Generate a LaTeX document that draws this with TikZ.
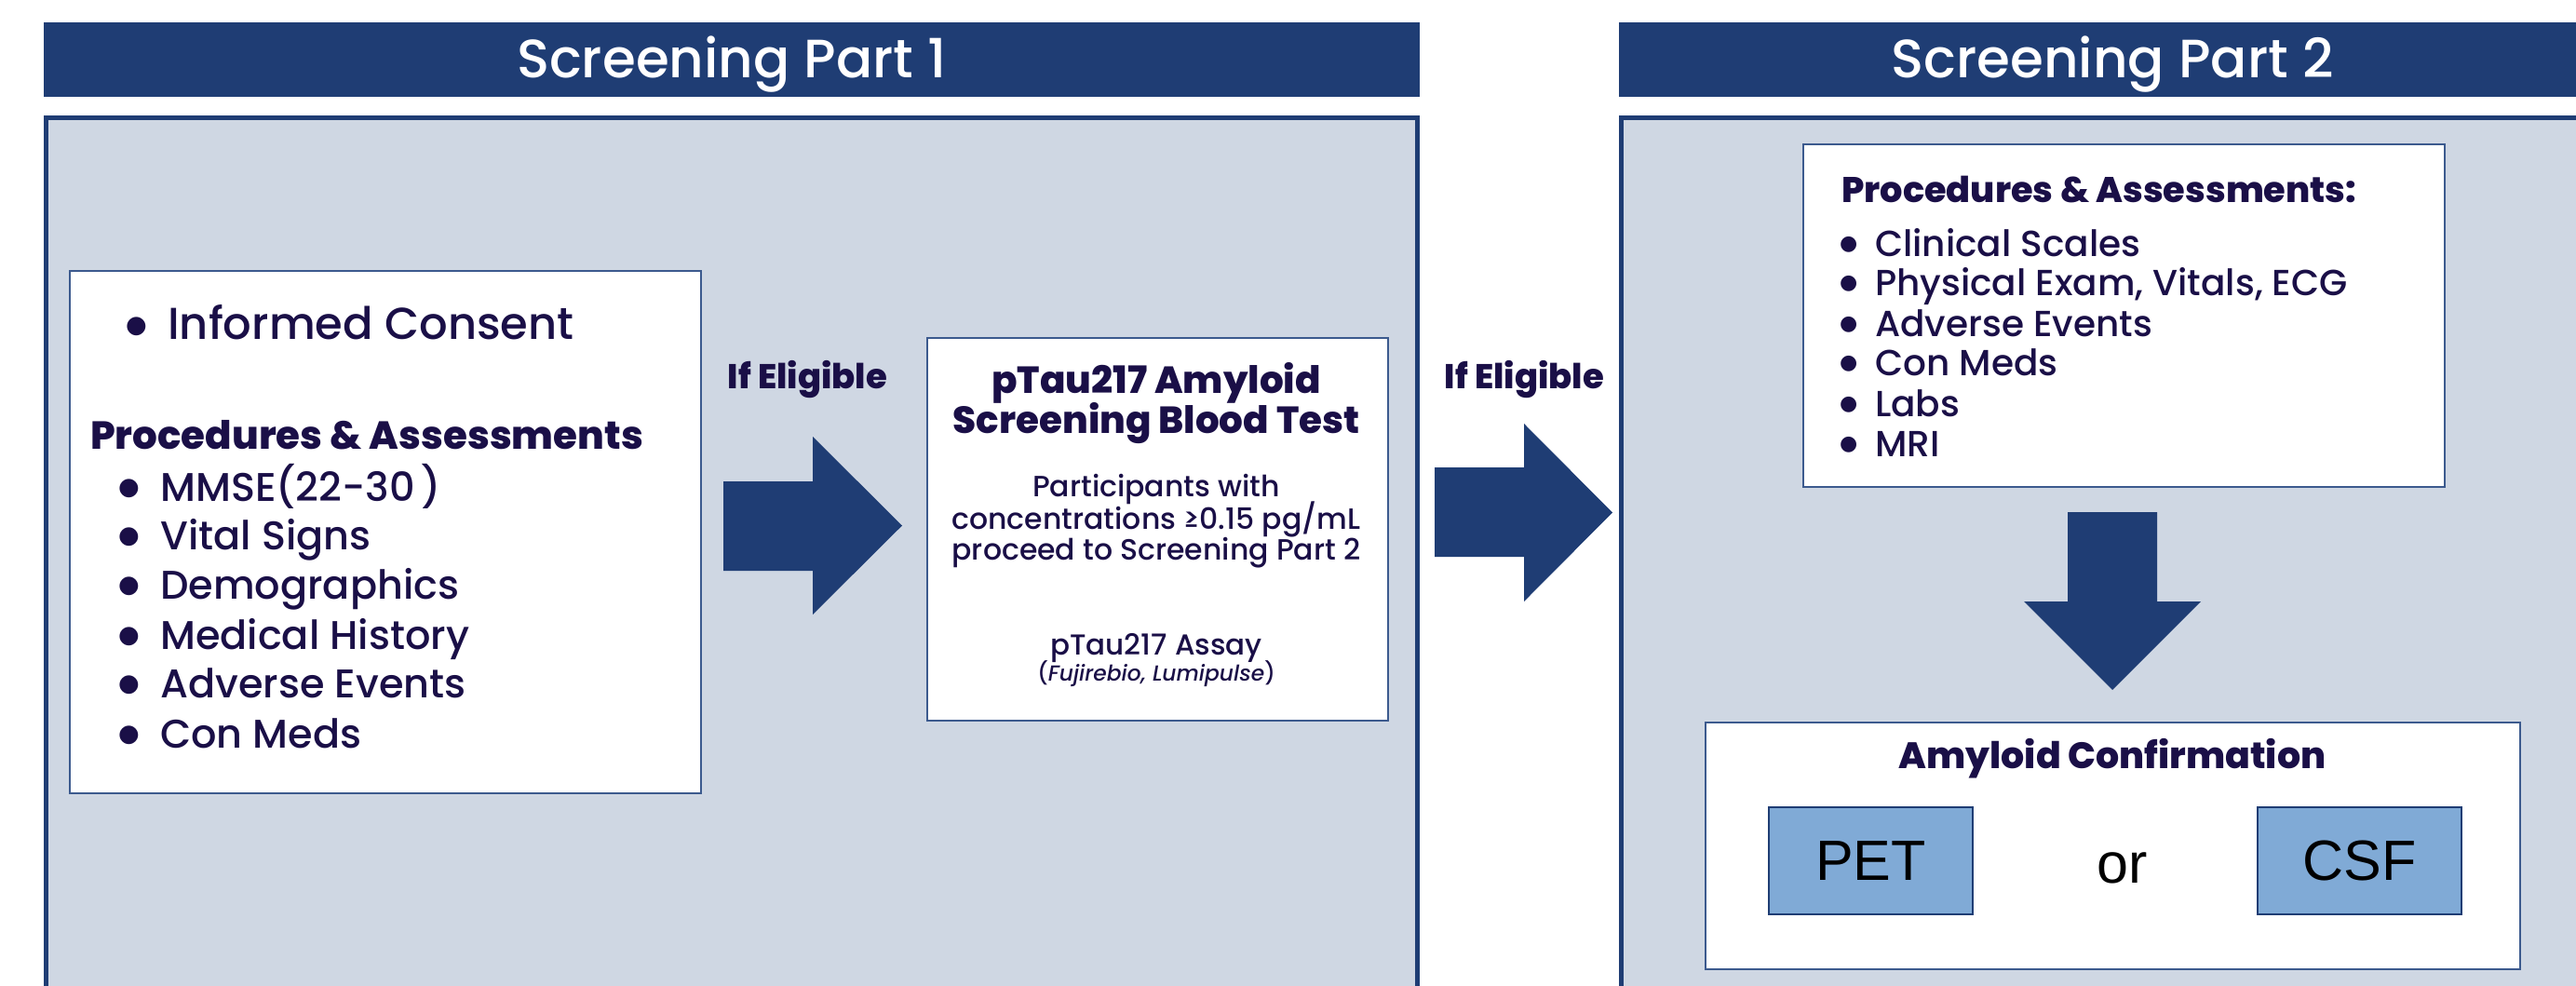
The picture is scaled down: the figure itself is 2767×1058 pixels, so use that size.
\documentclass[tikz,border=0pt]{standalone}
\usepackage{fontspec}
\setmainfont{Poppins}[UprightFont={* Medium}, ItalicFont={* Medium Italic}]
\newfontfamily\plainsans{Liberation Sans}
\newfontfamily\dotfont{DejaVu Sans}

\definecolor{navy}{HTML}{1F3D74}
\definecolor{panel}{HTML}{CFD7E3}
\definecolor{ink}{HTML}{1A0F47}
\definecolor{steel}{HTML}{80AAD6}
\definecolor{boxline}{HTML}{3C5A8E}

\newcommand\fsz[1]{\fontsize{#1}{#1}\selectfont}
% list marker: a filled circle in a box of the given width, set at the given size
\newcommand\bul[2]{\makebox[#1][l]{\raisebox{6.5pt}{\dotfont\fsz{#2}●}}}

\tikzset{
  txt/.style={text=ink, inner sep=0pt, anchor=base west},
  ctr/.style={text=ink, inner sep=0pt, anchor=base},
  headtxt/.style={text=white, inner sep=0pt, anchor=base, font=\fsz{58}},
  panelbox/.style={draw=navy, line width=5pt, fill=panel},
  wbox/.style={draw=boxline, line width=2pt, fill=white, inner sep=0pt, anchor=north west},
  choice/.style={draw=navy, line width=1.5pt, fill=steel, inner sep=0pt,
    minimum width=219pt, minimum height=115pt, font=\plainsans\fsz{61}, text=black},
  blockarrow/.style={fill=navy},
}

\begin{document}
\begin{tikzpicture}[x=1pt, y=-1pt]
\useasboundingbox (0,0) rectangle (2767,1058);
\fill[white] (0,0) rectangle (2767,1058);
\begin{scope}
\clip (0,0) rectangle (2767,1058);

% ---- title bars ----
\fill[navy] (47,24) rectangle (1525,104);
\fill[navy] (1739,24) rectangle (2800,104);
\node[headtxt] (t1) at (786,83) {Screening Part 1};
\node[headtxt] (t2) at (2269,83) {Screening Part 2};

% ---- panels ----
\draw[panelbox] (49.5,126.5) rectangle (1522.5,1090);
\draw[panelbox] (1741.5,126.5) rectangle (2860,1090);

% ---- part 1: consent and first assessments ----
\node[wbox, minimum width=678pt, minimum height=561pt] (b1) at (74,290) {};
\node[txt, font=\fsz{48}] (ic) at (135,364) {\bul{45pt}{26}Informed Consent};
\node[txt, font=\bfseries\fsz{42}] (pa1) at (97,482) {Procedures \& Assessments};
\node[txt, font=\fsz{43}] (l1) at (127,538) {\bul{45pt}{26}MMSE(22-30\,)};
\node[txt, font=\fsz{43}] (l2) at (127,590) {\bul{45pt}{26}Vital Signs};
\node[txt, font=\fsz{43}] (l3) at (127,643) {\bul{45pt}{26}Demographics};
\node[txt, font=\fsz{43}] (l4) at (127,697) {\bul{45pt}{26}Medical History};
\node[txt, font=\fsz{43}] (l5) at (127,749) {\bul{45pt}{26}Adverse Events};
\node[txt, font=\fsz{43}] (l6) at (127,803) {\bul{45pt}{26}Con Meds};

% ---- eligibility arrow 1 ----
\node[ctr, font=\bfseries\fsz{37}] (ie1) at (867.5,417) {If Eligible};
\fill[blockarrow] (777,517) -- (873,517) -- (873,469) -- (969,564.5)
  -- (873,660) -- (873,613) -- (777,613) -- cycle;

% ---- blood test ----
\node[wbox, minimum width=495pt, minimum height=411pt] (b2) at (995,362) {};
\node[ctr, font=\bfseries\fsz{40.5}] (m1) at (1242,422) {pTau217 Amyloid};
\node[ctr, font=\bfseries\fsz{40.5}] (m2) at (1242,465) {Screening Blood Test};
\node[ctr, font=\fsz{31.5}] (m3) at (1242,533) {Participants with};
\node[ctr, font=\fsz{31.5}] (m4) at (1242,568) {concentrations ≥0.15 pg/mL};
\node[ctr, font=\fsz{31.5}] (m5) at (1242,601) {proceed to Screening Part 2};
\node[ctr, font=\fsz{31}] (m6) at (1242,703) {pTau217 Assay};
\node[ctr, font=\fsz{23.4}] (m7) at (1242,731) {(\textit{Fujirebio, Lumipulse})};

% ---- eligibility arrow 2 ----
\node[ctr, font=\bfseries\fsz{37}] (ie2) at (1637.5,417) {If Eligible};
\fill[blockarrow] (1541,502) -- (1637,502) -- (1637,455) -- (1732,550.5)
  -- (1637,646) -- (1637,598) -- (1541,598) -- cycle;

% ---- part 2: assessments ----
\node[wbox, minimum width=689pt, minimum height=368pt] (b3) at (1936,154) {};
\node[txt, font=\bfseries\fsz{38.3}] (pa2) at (1978,217) {Procedures \& Assessments:};
\node[txt, font=\fsz{39}] (r1) at (1976,275) {\bul{38pt}{22}Clinical Scales};
\node[txt, font=\fsz{39}] (r2) at (1976,317) {\bul{38pt}{22}Physical Exam, Vitals, ECG};
\node[txt, font=\fsz{39}] (r3) at (1976,361) {\bul{38pt}{22}Adverse Events};
\node[txt, font=\fsz{39}] (r4) at (1976,403) {\bul{38pt}{22}Con Meds};
\node[txt, font=\fsz{39}] (r5) at (1976,447) {\bul{38pt}{22}Labs};
\node[txt, font=\fsz{39}] (r6) at (1976,490) {\bul{38pt}{22}MRI};

% ---- down arrow ----
\fill[blockarrow] (2221,550) -- (2317,550) -- (2317,646) -- (2364,646)
  -- (2269,741) -- (2174,646) -- (2221,646) -- cycle;

% ---- amyloid confirmation ----
\node[wbox, minimum width=875pt, minimum height=265pt] (b4) at (1831,775) {};
\node[ctr, font=\bfseries\fsz{39.5}] (ac) at (2269,825) {Amyloid Confirmation};
\node[choice] (pet) at (2009.5,924.5) {PET};
\node[choice] (csf) at (2534.5,924.5) {CSF};
\node[inner sep=0pt, anchor=base, font=\plainsans\fsz{61}, text=black] (or) at (2280,948) {or};
\end{scope}
\end{tikzpicture}
\end{document}
